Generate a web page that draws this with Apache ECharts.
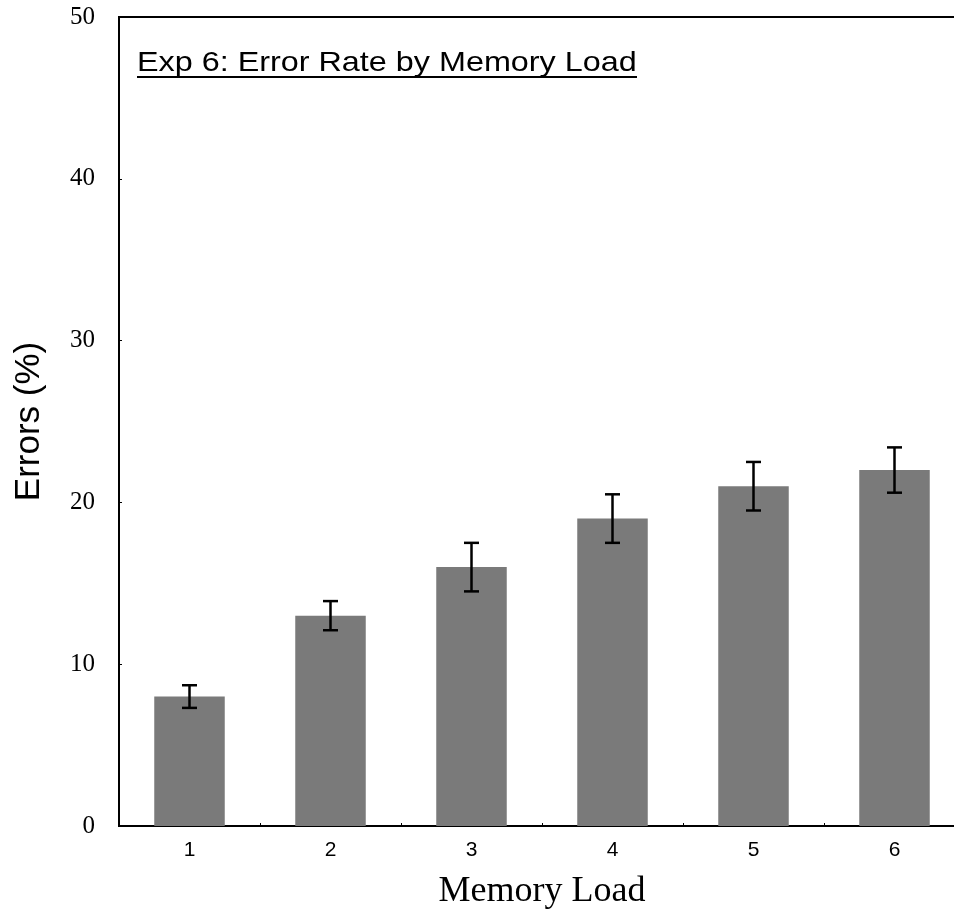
<!DOCTYPE html>
<html>
<head>
<meta charset="utf-8">
<style>
  html, body { margin: 0; padding: 0; background: #fff; }
  #chart { width: 954px; height: 916px; }
</style>
<script src="https://cdn.jsdelivr.net/npm/echarts@6/dist/echarts.min.js"></script>
</head>
<body>
<div id="chart"></div>
<script>
// Memory load conditions and mean error rates (%) with their error-bar half-widths
const loads = ['1', '2', '3', '4', '5', '6'];
const errorRate = [8, 13, 16, 19, 21, 22];
const errorBar = [0.7, 0.9, 1.5, 1.5, 1.5, 1.4];
const yTicks = [0, 10, 20, 30, 40, 50];

const titleText = 'Exp 6: Error Rate by Memory Load';
const sans = 'Liberation Sans, Arial, Helvetica, sans-serif';
const serif = 'Liberation Serif, Times New Roman, Times, serif';

const chart = echarts.init(document.getElementById('chart'), null, { renderer: 'canvas' });

const whiskers = loads.map((c, i) => [i, errorRate[i] - errorBar[i], errorRate[i] + errorBar[i]]);

chart.setOption({
  animation: false,
  backgroundColor: '#fff',
  grid: {
    left: 119, top: 17, width: 846, height: 809,
    outerBoundsMode: 'none',
    containLabel: false,
    show: true, borderColor: '#000', borderWidth: 2, backgroundColor: 'transparent'
  },
  xAxis: {
    type: 'category',
    data: loads,
    name: 'Memory Load',
    nameLocation: 'middle',
    nameGap: 48,
    nameTextStyle: { fontFamily: serif, fontSize: 36, color: '#000' },
    axisLine: { show: true, lineStyle: { color: '#000', width: 2 } },
    axisTick: { show: true, inside: true, length: 3, alignWithLabel: false, lineStyle: { color: '#000', width: 1 } },
    axisLabel: { fontFamily: sans, fontSize: 21, color: '#000', margin: 14 },
    splitLine: { show: false }
  },
  yAxis: {
    type: 'value',
    min: yTicks[0],
    max: yTicks[yTicks.length - 1],
    interval: yTicks[1] - yTicks[0],
    name: 'Errors (%)',
    nameLocation: 'middle',
    nameGap: 72,
    nameTextStyle: { fontFamily: sans, fontSize: 35, color: '#000' },
    axisLine: { show: true, lineStyle: { color: '#000', width: 2 } },
    axisTick: { show: true, inside: true, length: 3, lineStyle: { color: '#000', width: 1 } },
    axisLabel: { fontFamily: serif, fontSize: 25, color: '#000', margin: 24 },
    splitLine: { show: false }
  },
  graphic: [
    {
      type: 'text',
      x: 137, y: 49,
      scaleX: 1.155,
      style: { text: titleText, fontFamily: sans, fontSize: 28, fill: '#000', align: 'left', verticalAlign: 'top' },
      z: 10
    },
    {
      type: 'rect',
      shape: { x: 137, y: 76, width: 500, height: 2 },
      style: { fill: '#000' },
      z: 10
    }
  ],
  series: [
    {
      type: 'bar',
      data: errorRate,
      barWidth: '50%',
      itemStyle: { color: '#7a7a7a' },
      silent: true
    },
    {
      type: 'custom',
      data: whiskers,
      z: 5,
      silent: true,
      renderItem: function (params, api) {
        const x = api.value(0);
        const lo = api.coord([x, api.value(1)]);
        const hi = api.coord([x, api.value(2)]);
        const half = 7.5;
        const st = { stroke: '#000', lineWidth: 2.5 };
        return {
          type: 'group',
          children: [
            { type: 'line', shape: { x1: lo[0], y1: lo[1], x2: hi[0], y2: hi[1] }, style: st },
            { type: 'line', shape: { x1: lo[0] - half, y1: lo[1], x2: lo[0] + half, y2: lo[1] }, style: st },
            { type: 'line', shape: { x1: hi[0] - half, y1: hi[1], x2: hi[0] + half, y2: hi[1] }, style: st }
          ]
        };
      }
    }
  ]
});
</script>
</body>
</html>
